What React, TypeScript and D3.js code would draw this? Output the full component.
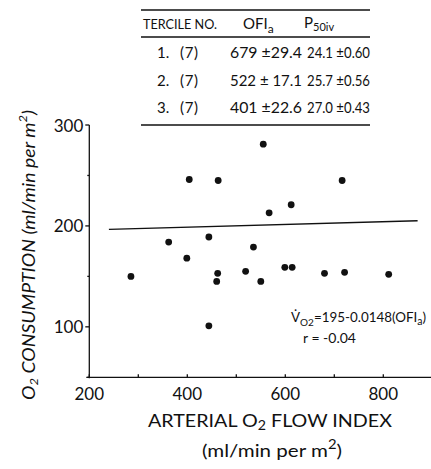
import React from "react";
import * as d3 from "d3";

// Data
const ofiValues = [555, 404, 463, 716, 612, 567, 444, 535, 399, 362, 285, 462, 460, 519, 550, 599, 614, 680, 721, 811, 444];
const vo2Values = [281, 246, 245, 245, 221, 213, 189, 179, 168, 184, 150, 153, 145, 155, 145, 159, 159, 153, 154, 152, 101];
const fitX = [240, 870];
const fitY = [196.6, 205.1];
const xTickValues = [200, 300, 400, 500, 600, 700, 800];
const xTickLabels = [200, 400, 600, 800];
const yTickValues = [50, 100, 150, 200, 250, 300];
const yTickLabels = [100, 200, 300];
const tableHeader = ["TERCILE NO.", "OFI", "P"];
const tercileNo = ["1.", "2.", "3."];
const tercileN = ["(7)", "(7)", "(7)"];
const ofiCol = ["679 ±29.4", "522 ± 17.1", "401 ±22.6"];
const p50Col = ["24.1 ±0.60", "25.7 ±0.56", "27.0 ±0.43"];

const W = 431;
const H = 469;
const FONT = "Lato, 'Open Sans', sans-serif";

export default function App() {
  const x = d3.scaleLinear().domain([200, 900]).range([89.3, 432.3]);
  const y = d3.scaleLinear().domain([50, 300]).range([377.3, 125]);
  const points = ofiValues.map((v, i) => ({ x: v, y: vo2Values[i] }));
  const line = d3
    .line<number>()
    .x((d) => x(d))
    .y((_, i) => y(fitY[i]));

  const rowY = [52, 80, 107];
  const x0 = x(200);
  const yb = y(50);

  return (
    <svg
      width={W}
      height={H}
      style={{ position: "absolute", left: 0, top: 0, background: "#fff" }}
      fontFamily={FONT}
    >
      <rect width={W} height={H} fill="#fff" />
      {/* Table */}
      <g fill="#111">
        <line x1={141} x2={370} y1={10} y2={10} stroke="#111" strokeWidth={1.3} />
        <line x1={141} x2={370} y1={37} y2={37} stroke="#111" strokeWidth={1.3} />
        <line x1={141} x2={370} y1={125} y2={125} stroke="#111" strokeWidth={1.3} />
        <text x={143} y={24} fontSize={13} dominantBaseline="central" textLength={74} lengthAdjust="spacingAndGlyphs">
          {tableHeader[0]}
        </text>
        <text x={243} y={23} fontSize={15} dominantBaseline="central">
          {tableHeader[1]}
          <tspan fontSize={12} dy={5}>a</tspan>
        </text>
        <text x={304} y={22} fontSize={15} dominantBaseline="central">
          {tableHeader[2]}
          <tspan fontSize={11} dy={4}>50iv</tspan>
        </text>
        {rowY.map((ry, i) => (
          <g key={i}>
            <text x={157} y={ry} fontSize={15} dominantBaseline="central">{tercileNo[i]}</text>
            <text x={180} y={ry} fontSize={15} dominantBaseline="central" textLength={18} lengthAdjust="spacing">{tercileN[i]}</text>
            <text x={230} y={ry} fontSize={15} dominantBaseline="central" textLength={72} lengthAdjust="spacingAndGlyphs">{ofiCol[i]}</text>
            <text x={307} y={ry} fontSize={15} dominantBaseline="central" textLength={63} lengthAdjust="spacingAndGlyphs">{p50Col[i]}</text>
          </g>
        ))}
      </g>

      {/* Axes */}
      <g stroke="#111" strokeWidth={1.3}>
        <line x1={x0} x2={x0} y1={y(300)} y2={yb + 1} />
        <line x1={x0 - 3} x2={W} y1={yb} y2={yb} />
        {yTickValues.map((v) => (
          <line key={v} x1={x0 - (v % 100 === 0 ? 4 : 2)} x2={x0} y1={y(v)} y2={y(v)} />
        ))}
        {xTickValues.map((v) => (
          <line key={v} x1={x(v)} x2={x(v)} y1={yb} y2={yb - 3} />
        ))}
      </g>
      {yTickLabels.map((v) => (
        <text key={v} x={x0 - 6} y={y(v)} fontSize={17} fill="#111" textAnchor="end" dominantBaseline="central">
          {v}
        </text>
      ))}
      {xTickLabels.map((v) => (
        <text key={v} x={x(v)} y={393} fontSize={17} fill="#111" textAnchor="middle" dominantBaseline="central">
          {v}
        </text>
      ))}

      {/* Axis titles */}
      <text x={148} y={420} fontSize={18} dominantBaseline="central" fill="#111" textLength={244} lengthAdjust="spacingAndGlyphs">
        ARTERIAL O<tspan fontSize={13} dy={5}>2</tspan>
        <tspan dy={-5}> FLOW INDEX</tspan>
      </text>
      <text x={202} y={450} fontSize={18} dominantBaseline="central" fill="#111" textLength={140} lengthAdjust="spacingAndGlyphs">
        (ml/min per m<tspan fontSize={13} dy={-6}>2</tspan>
        <tspan dy={6}>)</tspan>
      </text>
      <text
        transform="translate(28,400) rotate(-90)"
        x={0}
        y={0}
        fontSize={18}
        fontStyle="italic"
        dominantBaseline="central"
        fill="#111"
        textLength={290}
        lengthAdjust="spacingAndGlyphs"
      >
        O<tspan fontSize={12} dy={5}>2</tspan>
        <tspan dy={-5}> CONSUMPTION (ml/min per m</tspan>
        <tspan fontSize={12} dy={-6}>2</tspan>
        <tspan dy={6}>)</tspan>
      </text>

      {/* Regression line */}
      <path d={line(fitX) || ""} fill="none" stroke="#111" strokeWidth={1.4} />

      {/* Points */}
      {points.map((p, i) => (
        <circle key={i} cx={x(p.x)} cy={y(p.y)} r={3.4} fill="#111" />
      ))}

      {/* Equation */}
      <text x={291} y={317} fontSize={13.4} dominantBaseline="central" fill="#111">
        V{"\u0307"}<tspan fontSize={10} dy={5}>O2</tspan>
        <tspan dy={-5}>=195-0.0148(OFI</tspan>
        <tspan fontSize={10.5} dy={4}>a</tspan>
        <tspan dy={-4}>)</tspan>
      </text>
      <text x={303} y={337} fontSize={14} dominantBaseline="central" fill="#111">
        r = -0.04
      </text>
    </svg>
  );
}
